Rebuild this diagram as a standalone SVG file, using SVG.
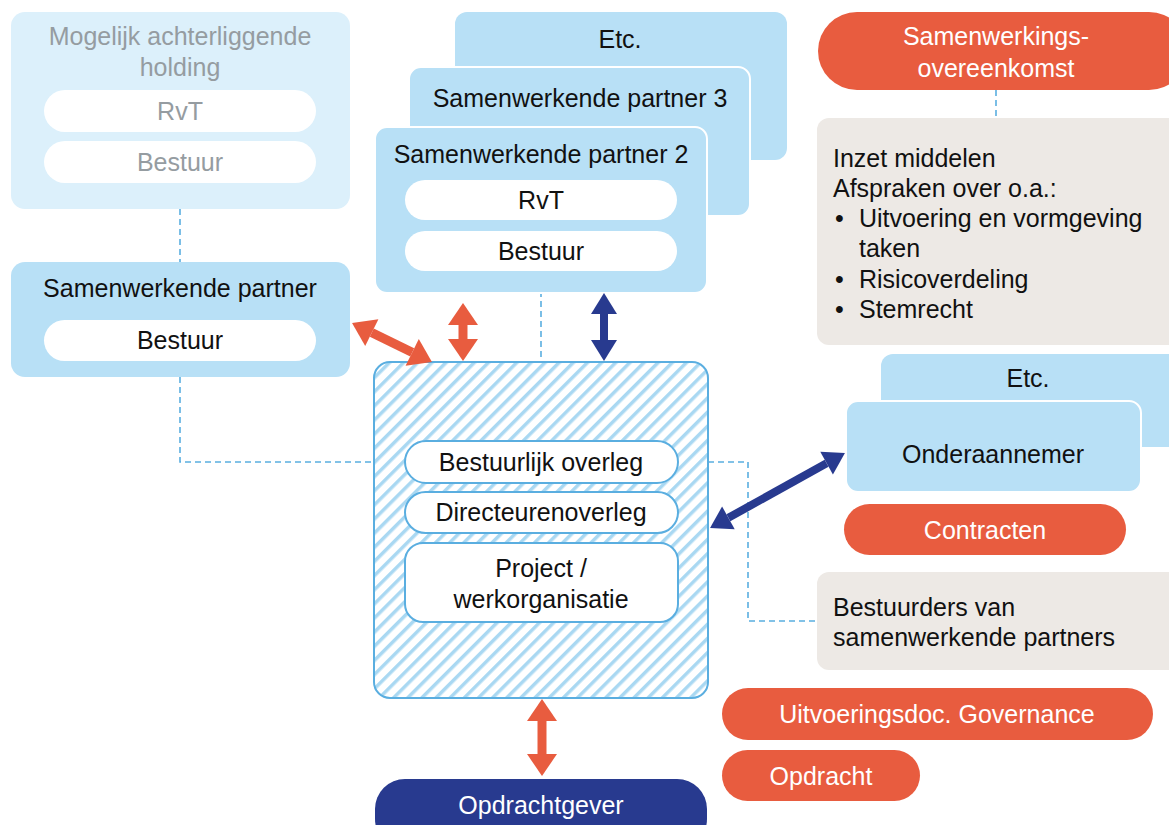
<svg xmlns="http://www.w3.org/2000/svg" width="1169" height="825" viewBox="0 0 1169 825">
<style>
text{font-family:"Liberation Sans",Arial,sans-serif;font-size:25px;fill:#111;text-anchor:middle}
.l{text-anchor:start}
.w{fill:#fff}
.g{fill:#959ca1}
.box{fill:#b8e0f6}
.boxw{fill:#b8e0f6;stroke:#fff;stroke-width:2}
.pill{fill:#fff}
.opill{fill:#fff;stroke:#5aaee0;stroke-width:2}
.org{fill:#e85c3f}
.grey{fill:#ede9e5}
.dash{fill:none;stroke:#5aaee0;stroke-width:1.6;stroke-dasharray:6 4}
.ao{stroke:#e85c3f;stroke-width:9;marker-start:url(#mo);marker-end:url(#mo)}
.ab{stroke:#283a8f;stroke-width:8;marker-start:url(#mb);marker-end:url(#mb)}
</style>
<defs>
<pattern id="hatch" width="10" height="10" patternUnits="userSpaceOnUse" patternTransform="rotate(45)">
<rect width="10" height="10" fill="#fff"/>
<rect x="0" y="0" width="3.5" height="10" fill="#a9d8f2"/>
</pattern>
<marker id="mo" markerUnits="userSpaceOnUse" markerWidth="24" markerHeight="32" refX="0" refY="15" orient="auto-start-reverse" overflow="visible">
<path d="M0,0 L22,15 L0,30 z" fill="#e85c3f"/>
</marker>
<marker id="mb" markerUnits="userSpaceOnUse" markerWidth="24" markerHeight="32" refX="0" refY="13" orient="auto-start-reverse" overflow="visible">
<path d="M0,0 L21,13 L0,26 z" fill="#283a8f"/>
</marker>
</defs>
<rect width="1169" height="825" fill="#fff"/>

<g id="connectors">
<path class="dash" d="M180,209 V262"/>
<path class="dash" d="M180,377 V462 H405"/>
<path class="dash" d="M541,271 V441"/>
<path class="dash" d="M678,462 H748 V621 H817"/>
<path class="dash" d="M996,90 V118"/>
</g>

<g id="holding">
<rect x="11" y="12" width="339" height="197" rx="14" fill="#dcf0fb"/>
<text class="g" x="180" y="45">Mogelijk achterliggende</text>
<text class="g" x="180" y="76">holding</text>
<rect class="pill" x="44" y="90" width="272" height="42" rx="21"/>
<text class="g" x="180" y="120">RvT</text>
<rect class="pill" x="44" y="141" width="272" height="42" rx="21"/>
<text class="g" x="180" y="171">Bestuur</text>
</g>

<g id="partner1">
<rect class="box" x="11" y="262" width="339" height="115" rx="14"/>
<text x="180" y="297">Samenwerkende partner</text>
<rect class="pill" x="44" y="320" width="272" height="41" rx="20.5"/>
<text x="180" y="349">Bestuur</text>
</g>

<g id="etc-top">
<rect class="box" x="455" y="12" width="332" height="148" rx="12"/>
<text x="620" y="48">Etc.</text>
</g>
<g id="partner3">
<rect class="boxw" x="409" y="67" width="341" height="149" rx="12"/>
<text x="580" y="107">Samenwerkende partner 3</text>
</g>
<g id="partner2">
<rect class="boxw" x="375" y="127" width="332" height="166" rx="12"/>
<text x="541" y="163">Samenwerkende partner 2</text>
<rect class="pill" x="405" y="180" width="272" height="40" rx="20"/>
<text x="541" y="209">RvT</text>
<rect class="pill" x="405" y="231" width="272" height="40" rx="20"/>
<text x="541" y="260">Bestuur</text>
</g>

<g id="samenwerkingsverband">
<rect x="374" y="362" width="334" height="336" rx="16" fill="url(#hatch)" stroke="#5aaee0" stroke-width="2"/>
<rect class="opill" x="405" y="441" width="273" height="42" rx="21"/>
<text x="541" y="471">Bestuurlijk overleg</text>
<rect class="opill" x="405" y="492" width="273" height="41" rx="20.5"/>
<text x="541" y="521">Directeurenoverleg</text>
<rect class="opill" x="405" y="543" width="273" height="79" rx="18"/>
<text x="541" y="577">Project /</text>
<text x="541" y="608">werkorganisatie</text>
</g>

<g id="opdrachtgever">
<rect x="375" y="779" width="332" height="70" rx="30" fill="#283a8f"/>
<text class="w" x="541" y="814">Opdrachtgever</text>
</g>

<g id="sok">
<rect class="org" x="818" y="12" width="370" height="78" rx="39"/>
<text class="w" x="996" y="45">Samenwerkings-</text>
<text class="w" x="996" y="77">overeenkomst</text>
</g>
<g id="afspraken">
<rect class="grey" x="817" y="118" width="370" height="227" rx="12"/>
<text class="l" x="833" y="167">Inzet middelen</text>
<text class="l" x="833" y="197">Afspraken over o.a.:</text>
<text class="l" x="835" y="227">•</text>
<text class="l" x="859" y="227">Uitvoering en vormgeving</text>
<text class="l" x="859" y="257">taken</text>
<text class="l" x="835" y="288">•</text>
<text class="l" x="859" y="288">Risicoverdeling</text>
<text class="l" x="835" y="318">•</text>
<text class="l" x="859" y="318">Stemrecht</text>
</g>

<g id="etc-right">
<rect class="box" x="881" y="354" width="310" height="93" rx="12"/>
<text x="1028" y="387">Etc.</text>
</g>
<g id="onderaannemer">
<rect class="boxw" x="846" y="401" width="295" height="91" rx="12"/>
<text x="993" y="463">Onderaannemer</text>
</g>
<g id="contracten">
<rect class="org" x="844" y="504" width="282" height="51" rx="25.5"/>
<text class="w" x="985" y="539">Contracten</text>
</g>
<g id="bestuurders">
<rect class="grey" x="817" y="572" width="370" height="98" rx="12"/>
<text class="l" x="833" y="616">Bestuurders van</text>
<text class="l" x="833" y="646">samenwerkende partners</text>
</g>
<g id="uitvoeringsdoc">
<rect class="org" x="722" y="688" width="431" height="52" rx="26"/>
<text class="w" x="937" y="723">Uitvoeringsdoc. Governance</text>
</g>
<g id="opdracht">
<rect class="org" x="722" y="750" width="198" height="51" rx="25.5"/>
<text class="w" x="821" y="785">Opdracht</text>
</g>

<g id="arrows">
<line class="ao" x1="371.8" y1="332.6" x2="412.2" y2="352.4"/>
<line class="ao" x1="463" y1="325" x2="463" y2="339"/>
<line class="ab" x1="604" y1="314" x2="604" y2="340"/>
<line class="ab" x1="728.4" y1="517.8" x2="826.6" y2="463.2"/>
<line class="ao" x1="542" y1="721" x2="542" y2="754"/>
</g>
</svg>
